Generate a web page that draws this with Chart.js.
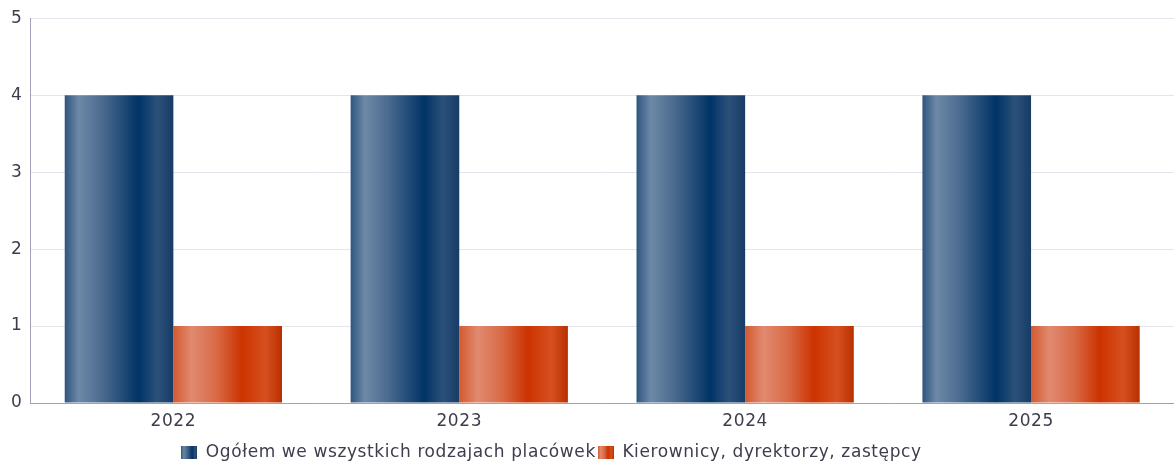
<!DOCTYPE html>
<html>
<head>
<meta charset="utf-8">
<script src="https://cdn.jsdelivr.net/npm/chart.js@4/dist/chart.umd.min.js"></script>
<style>
  html, body { margin: 0; padding: 0; background: #fff; }
  #wrap { width: 1174px; height: 463px; }
</style>
</head>
<body>
<div id="wrap"><canvas id="myChart"></canvas></div>
<script>
const years = ['2022', '2023', '2024', '2025']
const ogolem = [4, 4, 4, 4]
const kierownicy = [1, 1, 1, 1]
const seriesNames = ['Ogółem we wszystkich rodzajach placówek', 'Kierownicy, dyrektorzy, zastępcy']

// gradient stops across each bar (left -> right)
const blueStops = [[0, '#2f5680'], [0.13, '#6e89a7'], [0.35, '#4a6a8e'], [0.68, '#003366'], [0.85, '#2c5179'], [1, '#163c67']]
const orangeStops = [[0, '#d45a30'], [0.17, '#e08a70'], [0.4, '#d86a45'], [0.63, '#cc3300'], [0.85, '#d6501f'], [1, '#b83000']]
const allStops = [blueStops, orangeStops]

const swatch = (stops) => {
    const c = document.createElement('canvas')
    c.width = 16
    c.height = 13
    const g = c.getContext('2d')
    const grad = g.createLinearGradient(0, 0, 16, 0)
    stops.forEach(([p, col]) => grad.addColorStop(p, col))
    g.fillStyle = grad
    g.fillRect(0, 0, 16, 13)
    return c
}

const gradientBars = {
    id: 'gradientBars',
    beforeDatasetsDraw(chart) {
        const ctx = chart.ctx
        chart.data.datasets.forEach((ds, i) => {
            chart.getDatasetMeta(i).data.forEach(bar => {
                const g = ctx.createLinearGradient(bar.x - bar.width / 2, 0, bar.x + bar.width / 2, 0)
                allStops[i].forEach(([p, col]) => g.addColorStop(p, col))
                // options object is shared between bars, so give each its own copy
                bar.options = Object.assign({}, bar.options, { backgroundColor: g })
            })
        })
    }
}

// the original text is a bit wider than DejaVu, add a little letter spacing
const wideText = {
    id: 'wideText',
    beforeUpdate(chart) { chart.ctx.letterSpacing = '0.6px' },
    beforeDraw(chart) { chart.ctx.letterSpacing = '0.6px' },
    afterLayout(chart) {
        // legend sits a little left of centre and lower in the original
        chart.legend.left -= 37
        chart.legend.right -= 37
        chart.legend.top += 8
        chart.legend.bottom += 8
    }
}

const font = { family: '"DejaVu Sans", sans-serif', size: 17 }

new Chart(document.getElementById('myChart').getContext('2d'), {
    type: 'bar',
    data: {
        labels: years,
        datasets: [
            { label: seriesNames[0], data: ogolem, backgroundColor: '#003366', pointStyle: swatch(blueStops) },
            { label: seriesNames[1], data: kierownicy, backgroundColor: '#cc3300', pointStyle: swatch(orangeStops) }
        ]
    },
    options: {
        responsive: true,
        maintainAspectRatio: false,
        animation: false,
        layout: { padding: { top: 15, right: 0, left: 3, bottom: 0 } },
        datasets: { bar: { categoryPercentage: 0.76, barPercentage: 1 } },
        scales: {
            x: {
                grid: { display: false },
                border: { color: '#a0a0ba' },
                ticks: { color: '#3d3d4d', font: font, padding: 0 },
                afterFit: axis => { axis.height = 31 }
            },
            y: {
                min: 0,
                max: 5,
                ticks: { stepSize: 1, color: '#3d3d4d', font: font, padding: 8 },
                grid: { color: '#e4e4ec', drawTicks: false },
                border: { color: '#a0a0ba' }
            }
        },
        plugins: {
            tooltip: { enabled: false },
            legend: {
                position: 'bottom',
                labels: {
                    usePointStyle: true,
                    pointStyleWidth: 16,
                    boxHeight: 13,
                    padding: 2,
                    color: '#3d3d4d',
                    font: font
                }
            }
        }
    },
    plugins: [gradientBars, wideText]
})
</script>
</body>
</html>
